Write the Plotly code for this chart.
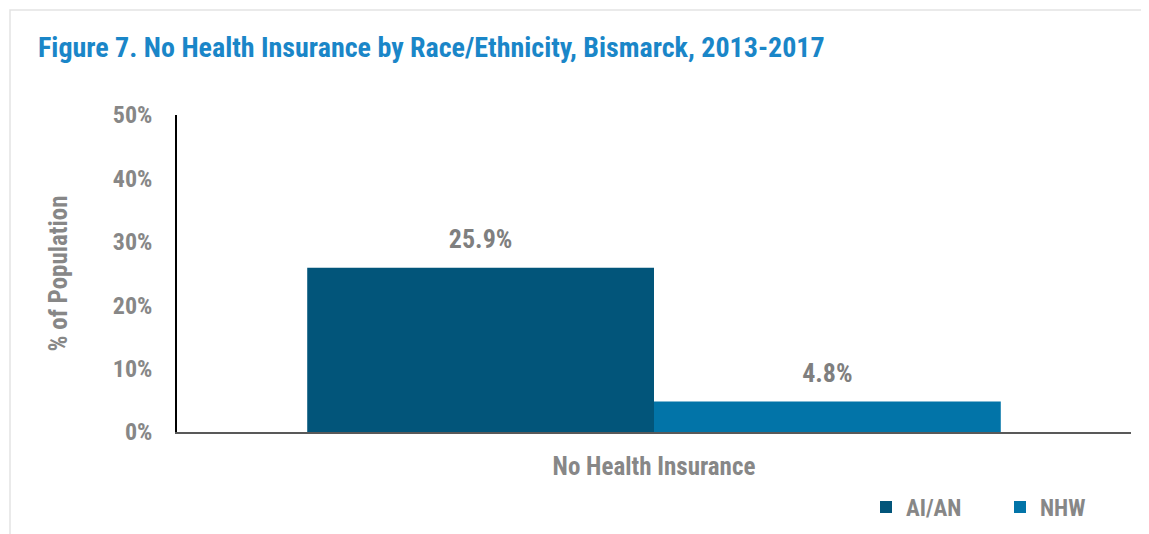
import plotly.graph_objects as go

categories = ["No Health Insurance"]
series_names = ["AI/AN", "NHW"]
series_values = [[25.9], [4.8]]
series_colors = ["#02557a", "#0274a8"]
tick_vals = [0, 10, 20, 30, 40, 50]
tick_text = ["0%", "10%", "20%", "30%", "40%", "50%"]

FONT = "Roboto Condensed, Archivo Narrow, Arial Narrow, sans-serif"
GRAY = "#878787"

W, H = 1141, 526
L, R, T, B = 169, 18, 107, 102
PW, PH = W - L - R, H - T - B

fig = go.Figure()
for name, vals, col in zip(series_names, series_values, series_colors):
    fig.add_trace(go.Bar(
        x=categories, y=vals, name=name, marker_color=col, marker_line_width=0,
        offsetgroup=name,
    ))
# value labels, grouped the same way as the bars
for name, vals in zip(series_names, series_values):
    fig.add_trace(go.Scatter(
        x=categories, y=vals, mode="markers+text", showlegend=False, hoverinfo="skip",
        offsetgroup=name, orientation="v",
        marker=dict(size=19, opacity=0),
        text=[f"<b>{v:.1f}%</b>" for v in vals], textposition="top center",
        textfont=dict(family=FONT, size=26, color="#7f7f7f"),
        cliponaxis=False,
    ))

fig.update_layout(
    width=W, height=H,
    margin=dict(l=L, r=R, t=T, b=B, autoexpand=False),
    paper_bgcolor="white", plot_bgcolor="white",
    barmode="group", bargap=0.273, bargroupgap=0,
    scattermode="group", scattergap=0.273,
    font=dict(family=FONT, color=GRAY),
    title=dict(text="<b>Figure 7. No Health Insurance by Race/Ethnicity, Bismarck, 2013-2017</b>",
               x=30/W, xanchor="left", y=1-39/H, yanchor="middle",
               font=dict(family=FONT, size=28, color="#1a86c8")),
    showlegend=True,
    legend=dict(orientation="h", xref="container", yref="container",
                x=858/W, xanchor="left", y=1-499/H, yanchor="middle",
                font=dict(family=FONT, size=23, color=GRAY, weight="bold"),
                itemwidth=30, traceorder="normal", entrywidth=89, entrywidthmode="pixels"),
)
fig.update_yaxes(range=[0, 50], tickvals=tick_vals, ticktext=tick_text,
                 showgrid=False, zeroline=False, showline=True, linecolor="#000000", linewidth=1.5,
                 ticks="", ticklabelstandoff=18,
                 tickfont=dict(family=FONT, size=24, color=GRAY, weight="bold"),
                 title=dict(text="<b>% of Population</b>", standoff=38,
                            font=dict(family=FONT, size=25, color=GRAY)))
fig.update_xaxes(showline=True, linecolor="#595959", linewidth=2, ticks="",
                 tickfont=dict(family=FONT, size=25, color=GRAY, weight="bold"),
                 ticklabelstandoff=11)
# light frame around the chart area
fig.add_shape(type="rect", xref="paper", yref="paper",
              x0=(2 - L) / PW, x1=(W + 20 - L) / PW, y0=-(B + 20) / PH, y1=(PH + T - 2) / PH,
              line=dict(color="#e3e3e3", width=1.5), fillcolor="rgba(0,0,0,0)", layer="below")
fig.write_html("out.html")
